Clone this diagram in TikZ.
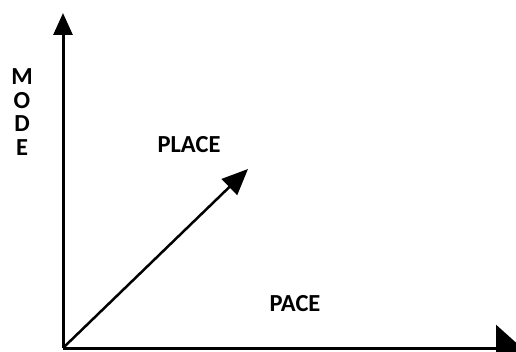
\documentclass[tikz,border=0pt]{standalone}
\usepackage{fontspec}
\setmainfont{Carlito}
\usetikzlibrary{arrows.meta}

\begin{document}
\begin{tikzpicture}[x=1pt,y=1pt,>={Triangle[length=22pt,width=19pt]}, line width=3pt, line join=round,
	lbl/.style={font=\fontsize{24.5}{23.7}\selectfont\bfseries, inner sep=0pt, align=center}]
	\useasboundingbox (0,0) rectangle (516,351);
	\coordinate (O) at (63,3);
	\coordinate (T) at (63,338);
	\coordinate (R) at (522,3);
	\coordinate (P) at (248,182);
	\draw[->] (O)--(T);
	\draw[-{Triangle[length=26pt,width=46pt]}] (O)--(R);
	\draw[-{Triangle[length=26pt,width=22pt]}, line width=2.5pt] (O)--(P);
	\node[lbl] (mode) at (22,239) {M\\O\\D\\E};
	\node[lbl] (place) at (189,206) {PLACE};
	\node[lbl] (pace) at (295,47) {PACE};
\end{tikzpicture}
\end{document}
